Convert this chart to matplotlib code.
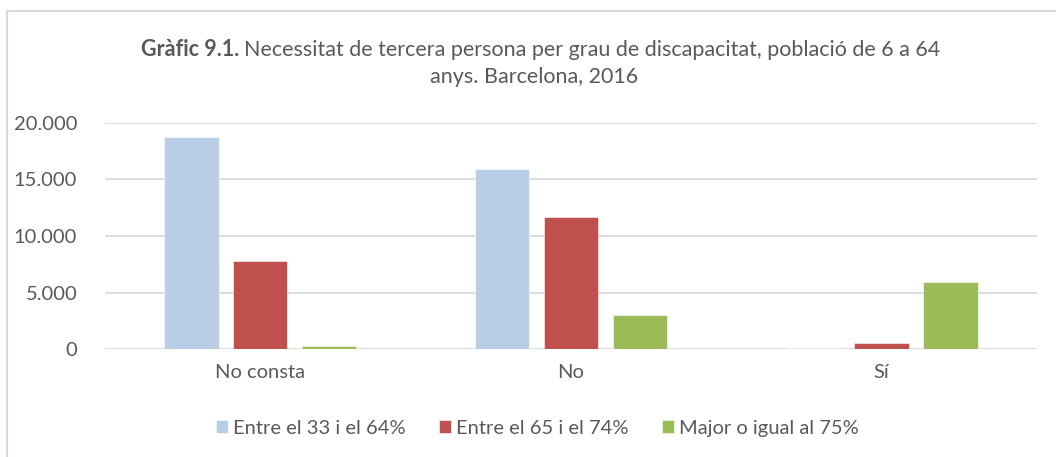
import numpy as np
import matplotlib
matplotlib.use("Agg")
import matplotlib.pyplot as plt
from matplotlib.lines import Line2D

plt.rcParams['font.family'] = ['Lato', 'DejaVu Sans']

categories = ['No consta', 'No', 'Sí']
series_names = ['Entre el 33 i el 64%', 'Entre el 65 i el 74%', 'Major o igual al 75%']
v_33_64 = [18750, 15900, 130]
v_65_74 = [7800, 11700, 560]
v_75 = [240, 3050, 5900]
yticks = [0, 5000, 10000, 15000, 20000]
ytick_labels = ['0', '5.000', '10.000', '15.000', '20.000']

colors = ['#B9CDE5', '#C0504D', '#9BBB59']
text_col = '#595959'
grid_col = '#D9D9D9'

fig = plt.figure(figsize=(10.56, 4.57), dpi=100)
ax = fig.add_axes([0.0994, 0.2363, 0.8826, 0.4946])

x = np.arange(len(categories))
width = 0.175
step = 0.222
for i, (vals, name) in enumerate(zip([v_33_64, v_65_74, v_75], series_names)):
    ax.bar(x + (i - 1) * step, vals, width, color=colors[i], label=name,
           edgecolor='white', linewidth=0.4, zorder=3)

ax.set_xlim(-0.5, 2.5)
ax.set_ylim(0, 20000)
ax.set_yticks(yticks)
ax.set_yticklabels(ytick_labels)
ax.set_xticks(x)
ax.set_xticklabels(categories)
ax.tick_params(axis='both', length=0, colors=text_col, labelsize=14.5)
ax.tick_params(axis='y', pad=20)
ax.tick_params(axis='x', pad=11)
ax.yaxis.grid(True, color=grid_col, linewidth=1.3, zorder=0)
for s in ax.spines.values():
    s.set_visible(False)

# title: bold prefix + regular text, centred together
tsize = 15.5
fig.canvas.draw()
r = fig.canvas.get_renderer()
t1 = fig.text(0, 0.891, 'Gràfic 9.1.', ha='left', va='center', fontsize=tsize,
              color=text_col, fontweight='bold')
t2 = fig.text(0, 0.891, 'Necessitat de tercera persona per grau de discapacitat, població de 6 a 64',
              ha='left', va='center', fontsize=tsize, color=text_col)
w1 = t1.get_window_extent(r).width / fig.bbox.width
w2 = t2.get_window_extent(r).width / fig.bbox.width
gap = 0.004
x0 = 540.5 / 1056 - (w1 + gap + w2) / 2
t1.set_x(x0)
t2.set_x(x0 + w1 + gap)
fig.text(534 / 1056, 0.832, 'anys. Barcelona, 2016', ha='center', va='center', fontsize=tsize, color=text_col)

# legend
ax.legend(loc='center', bbox_to_anchor=(0.509, 0.063), bbox_transform=fig.transFigure,
          ncol=3, frameon=False, fontsize=14.5, labelcolor=text_col,
          handlelength=0.6, handleheight=0.6, handletextpad=0.25, columnspacing=1.65)

# chart frame
fig.add_artist(Line2D([0.0066, 0.0066], [0, 1 - 11 / 457], color=grid_col, linewidth=1.5,
                      transform=fig.transFigure))
fig.add_artist(Line2D([0.0066, 1], [1 - 11 / 457, 1 - 11 / 457], color=grid_col, linewidth=1.5,
                      transform=fig.transFigure))

fig.savefig('out.png', dpi=100)
